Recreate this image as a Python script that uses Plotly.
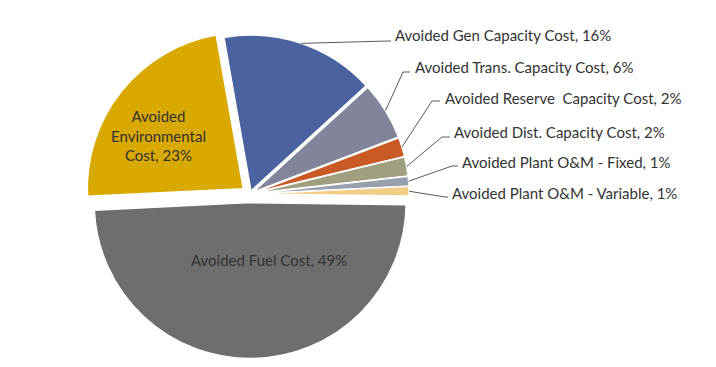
import math
import plotly.graph_objects as go

# ---- data ----
labels = [
    "Avoided Gen Capacity Cost",
    "Avoided Trans. Capacity Cost",
    "Avoided Reserve  Capacity Cost",
    "Avoided Dist. Capacity Cost",
    "Avoided Plant O&M - Fixed",
    "Avoided Plant O&M - Variable",
    "Avoided Fuel Cost",
    "Avoided Environmental Cost",
]
values = [16, 6, 2, 2, 1, 1, 49, 23]
colors = ["#4A62A0", "#82859A", "#C95A26", "#A09F80", "#98A0AE", "#F2CD86", "#6E6E6E", "#D9A900"]
pulls = [0.02, 0.02, 0.02, 0.02, 0.02, 0.02, 0.055, 0.055]

# ---- layout geometry (page pixels; page body has an 8px margin) ----
OFF = 8
W, H = 716, 367
FW, FH = W - 2 * OFF, H - 2 * OFF
cx, cy, r = 250, 194, 156
rotation = -10
maxpull = max(pulls)
half = r * (1 + maxpull)


def px(x):
    return (x - OFF) / FW


def py(y):
    return 1 - (y - OFF) / FH


dom_x = [px(cx - half), px(cx + half)]
dom_y = [py(cy + half), py(cy - half)]

FONT = "Lato"
FS = 15
TXT = "#333333"

fig = go.Figure(go.Pie(
    labels=labels,
    values=values,
    sort=False,
    direction="clockwise",
    rotation=rotation,
    pull=pulls,
    marker=dict(colors=colors, line=dict(color="white", width=1.5)),
    textinfo="none",
    hoverinfo="skip",
    domain=dict(x=dom_x, y=dom_y),
    showlegend=False,
))

total = sum(values)
cum = 0
starts = []
for v, p in zip(values, pulls):
    mid = math.radians(rotation + (cum + v / 2) * 360 / total)
    sx = cx + (1 + p) * r * math.sin(mid)
    sy = cy - (1 + p) * r * math.cos(mid)
    starts.append((sx, sy))
    cum += v

# outside labels: (text left x, text center y, elbow x, elbow y, end x)
outside = [
    (393, 35, 388, 41, 391),
    (413, 67, 403, 72, 410),
    (443, 98, 432, 101, 440),
    (452, 132, 442, 137, 450),
    (460, 162, 452, 166, 458),
    (450, 193, 445, 197, 448),
]

shapes = []
annotations = []
for i, (tx, ty, ex, ey, endx) in enumerate(outside):
    sx, sy = starts[i]
    path = f"M {px(sx)} {py(sy)} L {px(ex)} {py(ey)} L {px(endx)} {py(ey)}"
    shapes.append(dict(type="path", xref="paper", yref="paper", path=path,
                       line=dict(color="#5a5a5a", width=1)))
    annotations.append(dict(
        x=px(tx), y=py(ty), xref="paper", yref="paper",
        xanchor="left", yanchor="middle", showarrow=False,
        text=f"{labels[i]}, {values[i]}%",
        font=dict(family=FONT, size=FS, color=TXT),
    ))

# inside labels
annotations.append(dict(
    x=px(158), y=py(136), xref="paper", yref="paper",
    xanchor="center", yanchor="middle", showarrow=False, align="center",
    text=f"Avoided<br>Environmental<br>Cost, {values[7]}%",
    font=dict(family=FONT, size=FS, color=TXT),
))
annotations.append(dict(
    x=px(269), y=py(260), xref="paper", yref="paper",
    xanchor="center", yanchor="middle", showarrow=False,
    text=f"{labels[6]}, {values[6]}%",
    font=dict(family=FONT, size=FS, color=TXT),
))

fig.update_layout(
    width=FW, height=FH,
    margin=dict(l=0, r=0, t=0, b=0),
    paper_bgcolor="white",
    plot_bgcolor="white",
    shapes=shapes,
    annotations=annotations,
)

fig.write_html("out.html")
